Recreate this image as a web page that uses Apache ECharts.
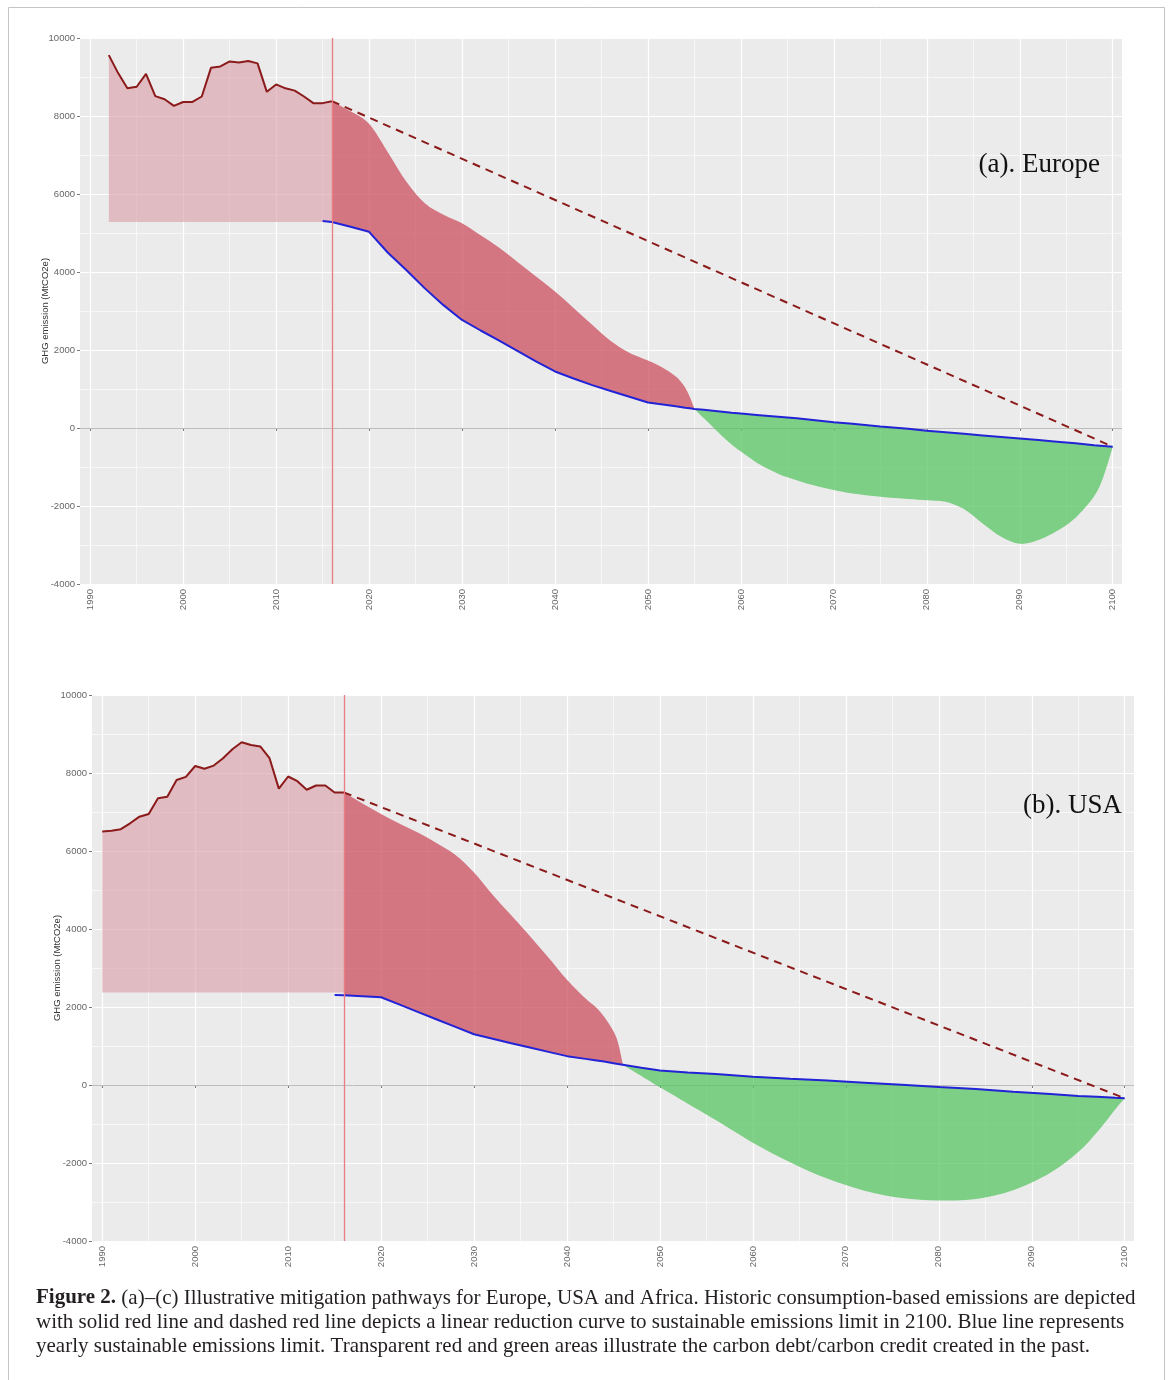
<!DOCTYPE html>
<html>
<head>
<meta charset="utf-8">
<title>Figure 2</title>
<script src="https://cdn.jsdelivr.net/npm/echarts@6/dist/echarts.min.js"></script>
<style>
  html, body { margin: 0; padding: 0; background: #fff; }
  #main { width: 1171px; height: 1380px; }
</style>
</head>
<body>
<div id="main"></div>
<script>
'use strict';

// ---- tick labels
var xTicks = [1990, 2000, 2010, 2020, 2030, 2040, 2050, 2060, 2070, 2080, 2090, 2100];
var xMinorTicks = [1995, 2005, 2015, 2025, 2035, 2045, 2055, 2065, 2075, 2085, 2095];

// ---- (a) Europe
var euHistYears = [1992, 1993, 1994, 1995, 1996, 1997, 1998, 1999, 2000, 2001, 2002, 2003, 2004,
                   2005, 2006, 2007, 2008, 2009, 2010, 2011, 2012, 2013, 2014, 2015, 2016];
var euHist = [9560, 9100, 8710, 8750, 9080, 8510, 8430, 8260, 8360, 8360, 8500, 9240, 9270,
              9400, 9370, 9410, 9350, 8620, 8810, 8710, 8650, 8500, 8330, 8330, 8380];
var euBase = 5280;
var euBlueYears = [2015, 2016, 2018, 2020, 2022, 2024, 2026, 2028, 2030, 2032, 2034, 2036, 2038, 2040,
                   2042, 2044, 2046, 2048, 2050, 2051, 2052, 2053, 2053.5, 2054, 2054.5, 2055, 2056,
                   2057, 2058, 2059, 2060, 2062, 2064, 2066, 2068, 2070, 2072, 2075, 2078, 2080, 2082,
                   2084, 2086, 2088, 2090, 2092, 2094, 2096, 2098, 2099, 2100];
var euBlue = [5310, 5280, 5160, 5030, 4500, 4050, 3580, 3150, 2770, 2500, 2240, 1970, 1700, 1450,
              1270, 1100, 950, 800, 655, 620, 590, 555, 540, 520, 505, 490, 465,
              440, 415, 390, 370, 330, 290, 250, 200, 150, 110, 40, -20, -70, -110,
              -150, -190, -230, -270, -310, -350, -390, -440, -460, -480];
var euDebtYears = [2016, 2018, 2020, 2022, 2024, 2026, 2028, 2030, 2032, 2034, 2036, 2038, 2040,
                   2042, 2044, 2046, 2048, 2050, 2051, 2052, 2053, 2053.5, 2054, 2054.5, 2055];
var euDebtTop = [8380, 8120, 7800, 7080, 6320, 5760, 5470, 5250, 4940, 4620, 4250, 3880, 3500,
                 3080, 2650, 2230, 1930, 1730, 1620, 1490, 1320, 1200, 1040, 800, 490];
var euCreditYears = [2055, 2056, 2057, 2058, 2059, 2060, 2062, 2064, 2066, 2068, 2070, 2072, 2075,
                     2078, 2080, 2082, 2084, 2086, 2088, 2090, 2092, 2094, 2096, 2098, 2099, 2100];
var euCreditBottom = [490, 255, 20, -210, -420, -600, -930, -1170, -1340, -1480, -1590, -1680, -1760,
                      -1820, -1850, -1890, -2080, -2450, -2790, -2970, -2870, -2640, -2300, -1750, -1250, -480];
var euDashYears = [2016, 2100];
var euDash = [8380, -480];
var euCutYear = 2016;

// ---- (b) USA
var usHistYears = [1990, 1991, 1992, 1993, 1994, 1995, 1996, 1997, 1998, 1999, 2000, 2001, 2002,
                   2003, 2004, 2005, 2006, 2007, 2008, 2009, 2010, 2011, 2012, 2013, 2014, 2015, 2016];
var usHist = [6500, 6520, 6560, 6710, 6880, 6950, 7350, 7390, 7820, 7900, 8180, 8110, 8190,
              8380, 8610, 8790, 8720, 8680, 8380, 7600, 7910, 7790, 7570, 7680, 7680, 7500, 7500];
var usBase = 2370;
var usBlueYears = [2015, 2016, 2018, 2020, 2022, 2024, 2026, 2028, 2030, 2032, 2034, 2036, 2038, 2040,
                   2042, 2043, 2044, 2045, 2045.5, 2046, 2048, 2050, 2053, 2056, 2060, 2064, 2068, 2072,
                   2076, 2080, 2084, 2088, 2092, 2095, 2097, 2099, 2100];
var usBlue = [2310, 2300, 2275, 2250, 2060, 1870, 1680, 1490, 1300, 1185, 1070, 960, 850, 740,
              670, 635, 600, 560, 540, 520, 440, 370, 320, 280, 210, 160, 115, 60,
              5, -50, -100, -170, -230, -280, -300, -330, -340];
var usDebtYears = [2016, 2018, 2020, 2022, 2024, 2026, 2028, 2030, 2032, 2034, 2036, 2038, 2040,
                   2042, 2043, 2044, 2045, 2045.5, 2046];
var usDebtTop = [7500, 7220, 6950, 6700, 6470, 6200, 5900, 5450, 4880, 4350, 3820, 3270, 2700,
                 2220, 2020, 1750, 1380, 1080, 540];
var usCreditYears = [2046, 2048, 2050, 2053, 2056, 2060, 2064, 2068, 2072, 2076, 2080, 2084, 2088,
                     2092, 2095, 2097, 2099, 2100];
var usCreditBottom = [520, 230, -60, -480, -900, -1480, -1980, -2400, -2710, -2900, -2960, -2920, -2700,
                      -2250, -1720, -1220, -620, -340];
var usDashYears = [2016, 2100];
var usDash = [7500, -340];
var usCutYear = 2016;

// colours
var PINK = 'rgba(220,158,170,0.62)';
var DEBT = 'rgba(204,78,95,0.75)';
var CREDIT = 'rgba(88,198,99,0.75)';
var HIST = '#8b1a1a';
var BLUE = '#2222d6';
var LABEL_FONT = 'Liberation Sans';

function pairs(xs, ys) {
    return xs.map(function (x, i) { return [x, ys[i]]; });
}

function lookup(xs, ys) {
    var m = {};
    xs.forEach(function (x, i) { m[x] = ys[i]; });
    return m;
}

// path segments through pts (already in pixels), starting after pts[0]
function edge(pts, smooth) {
    var s = '';
    for (var i = 0; i < pts.length - 1; i++) {
        var p1 = pts[i], p2 = pts[i + 1];
        if (!smooth) {
            s += ' L' + p2[0] + ' ' + p2[1];
            continue;
        }
        var p0 = pts[i - 1] || p1, p3 = pts[i + 2] || p2;
        var c1x = p1[0] + (p2[0] - p0[0]) / 6, c1y = p1[1] + (p2[1] - p0[1]) / 6;
        var c2x = p2[0] - (p3[0] - p1[0]) / 6, c2y = p2[1] - (p3[1] - p1[1]) / 6;
        // keep control points inside the segment horizontally
        c1x = Math.min(Math.max(c1x, Math.min(p1[0], p2[0])), Math.max(p1[0], p2[0]));
        c2x = Math.min(Math.max(c2x, Math.min(p1[0], p2[0])), Math.max(p1[0], p2[0]));
        s += ' C' + c1x + ' ' + c1y + ' ' + c2x + ' ' + c2y + ' ' + p2[0] + ' ' + p2[1];
    }
    return s;
}

// filled band between two curves, drawn through the axes of the grid
function band(idx, xs, lower, upper, color, lowerSmooth, upperSmooth) {
    return {
        type: 'custom', xAxisIndex: idx, yAxisIndex: idx, silent: true, z: 2,
        data: [[xs[0], lower[0]]],
        renderItem: function (params, api) {
            var top = xs.map(function (x, i) { return api.coord([x, upper[i]]); });
            var bot = xs.map(function (x, i) { return api.coord([x, lower[i]]); }).reverse();
            var d = 'M' + top[0][0] + ' ' + top[0][1] + edge(top, upperSmooth) +
                    ' L' + bot[0][0] + ' ' + bot[0][1] + edge(bot, lowerSmooth) + ' Z';
            return { type: 'path', shape: { pathData: d }, style: { fill: color, stroke: null } };
        }
    };
}

function panel(idx, p) {
    var blueAt = lookup(p.blueYears, p.blue);
    var debtBase = p.debtYears.map(function (y) { return blueAt[y]; });
    var creditTop = p.creditYears.map(function (y) { return blueAt[y]; });
    var histBase = p.histYears.map(function () { return p.base; });
    var list = [
        band(idx, p.histYears, histBase, p.hist, PINK, false, false),
        band(idx, p.debtYears, debtBase, p.debtTop, DEBT, false, true),
        band(idx, p.creditYears, p.creditBottom, creditTop, CREDIT, true, false)
    ];
    list.push({
        type: 'line', xAxisIndex: idx, yAxisIndex: idx, symbol: 'none', silent: true, z: 4,
        data: pairs(p.histYears, p.hist),
        lineStyle: { color: HIST, width: 2 },
        markLine: {
            silent: true, symbol: ['none', 'none'], label: { show: false }, z: 1,
            lineStyle: { color: '#bdbdbd', width: 1, type: 'solid' },
            data: [{ yAxis: 0 }]
        }
    });
    list.push({
        type: 'line', xAxisIndex: idx, yAxisIndex: idx, symbol: 'none', silent: true, z: 4,
        data: pairs(p.blueYears, p.blue),
        lineStyle: { color: BLUE, width: 2 }
    });
    list.push({
        type: 'line', xAxisIndex: idx, yAxisIndex: idx, symbol: 'none', silent: true, z: 4,
        data: pairs(p.dashYears, p.dash),
        lineStyle: { color: HIST, width: 2, type: [8, 6] },
        markLine: {
            silent: true, symbol: ['none', 'none'], label: { show: false },
            lineStyle: { color: '#ea7c84', width: 1.3, type: 'solid' },
            data: [{ xAxis: p.cut }]
        }
    });
    return list;
}

function plain(v) { return String(v); }

function xAxisMajor(idx) {
    return {
        type: 'value', gridIndex: idx, min: 1988.9, max: 2101,
        axisLine: { show: false },
        axisTick: { show: true, length: 3, customValues: xTicks, lineStyle: { color: '#7a7a7a' } },
        axisLabel: {
            customValues: xTicks, rotate: 90, margin: 5, color: '#666',
            fontSize: 9.5, fontFamily: LABEL_FONT, formatter: plain
        },
        splitLine: { show: true, lineStyle: { color: '#ffffff', width: 1.2 } }
    };
}

function xAxisMinor(idx) {
    return {
        type: 'value', gridIndex: idx, min: 1988.9, max: 2101, position: 'bottom',
        axisLine: { show: false },
        axisTick: { show: false, customValues: xMinorTicks },
        axisLabel: { show: false, customValues: xMinorTicks },
        splitLine: { show: true, lineStyle: { color: '#ffffff', width: 0.6 } }
    };
}

function yAxis(idx) {
    return {
        type: 'value', gridIndex: idx, min: -4000, max: 10000, interval: 2000,
        name: 'GHG emission (MtCO2e)', nameLocation: 'middle', nameRotate: 90, nameGap: 30,
        nameMoveOverlap: false,
        nameTextStyle: { fontSize: 9.5, color: '#333', fontFamily: LABEL_FONT },
        axisLine: { show: false },
        axisTick: { show: true, length: 3, lineStyle: { color: '#7a7a7a' } },
        axisLabel: { margin: 5, color: '#666', fontSize: 9.5, fontFamily: LABEL_FONT, formatter: plain },
        splitLine: { show: true, lineStyle: { color: '#ffffff', width: 1.2 } },
        minorTick: { show: false, splitNumber: 2 },
        minorSplitLine: { show: true, lineStyle: { color: '#ffffff', width: 0.6 } }
    };
}

var eu = {
    histYears: euHistYears, hist: euHist, base: euBase,
    blueYears: euBlueYears, blue: euBlue,
    debtYears: euDebtYears, debtTop: euDebtTop,
    creditYears: euCreditYears, creditBottom: euCreditBottom,
    dashYears: euDashYears, dash: euDash, cut: euCutYear
};
var us = {
    histYears: usHistYears, hist: usHist, base: usBase,
    blueYears: usBlueYears, blue: usBlue,
    debtYears: usDebtYears, debtTop: usDebtTop,
    creditYears: usCreditYears, creditBottom: usCreditBottom,
    dashYears: usDashYears, dash: usDash, cut: usCutYear
};

var captionFont = 'Liberation Serif';
var capSize = 21;
var capStyle = capSize + 'px "' + captionFont + '"';

var option = {
    animation: false,
    backgroundColor: '#ffffff',
    grid: [
        { left: 80, top: 38, width: 1042, height: 546, show: true, backgroundColor: '#ebebeb', borderWidth: 0 },
        { left: 92, top: 695, width: 1042, height: 546, show: true, backgroundColor: '#ebebeb', borderWidth: 0 }
    ],
    xAxis: [xAxisMajor(0), xAxisMajor(1), xAxisMinor(0), xAxisMinor(1)],
    yAxis: [yAxis(0), yAxis(1)],
    series: panel(0, eu).concat(panel(1, us)),
    graphic: [
        {
            type: 'rect', silent: true, z: 0,
            shape: { x: 8.5, y: 7.5, width: 1156, height: 1420 },
            style: { fill: 'none', stroke: '#c4c4c4', lineWidth: 1 }
        },
        {
            type: 'text', x: 1100, y: 165, z: 10,
            style: { text: '(a). Europe', fill: '#111', font: '27px "Liberation Serif"', align: 'right', verticalAlign: 'middle' }
        },
        {
            type: 'text', x: 1122, y: 806, z: 10,
            style: { text: '(b). USA', fill: '#111', font: '27px "Liberation Serif"', align: 'right', verticalAlign: 'middle' }
        },
        {
            type: 'text', x: 36, y: 1298, z: 10,
            style: {
                text: '{b|Figure 2.} (a)–(c) Illustrative mitigation pathways for Europe, USA and Africa. Historic consumption-based emissions are depicted',
                fill: '#231f20', font: capStyle, verticalAlign: 'middle',
                rich: { b: { fontWeight: 'bold', fontSize: capSize, fontFamily: captionFont, fill: '#231f20' } }
            }
        },
        {
            type: 'text', x: 36, y: 1322, z: 10,
            style: {
                text: 'with solid red line and dashed red line depicts a linear reduction curve to sustainable emissions limit in 2100. Blue line represents',
                fill: '#231f20', font: capStyle, verticalAlign: 'middle'
            }
        },
        {
            type: 'text', x: 36, y: 1346, z: 10,
            style: {
                text: 'yearly sustainable emissions limit. Transparent red and green areas illustrate the carbon debt/carbon credit created in the past.',
                fill: '#231f20', font: capStyle, verticalAlign: 'middle'
            }
        }
    ]
};

var myChart = echarts.init(document.getElementById('main'));
myChart.setOption(option);
</script>
</body>
</html>
